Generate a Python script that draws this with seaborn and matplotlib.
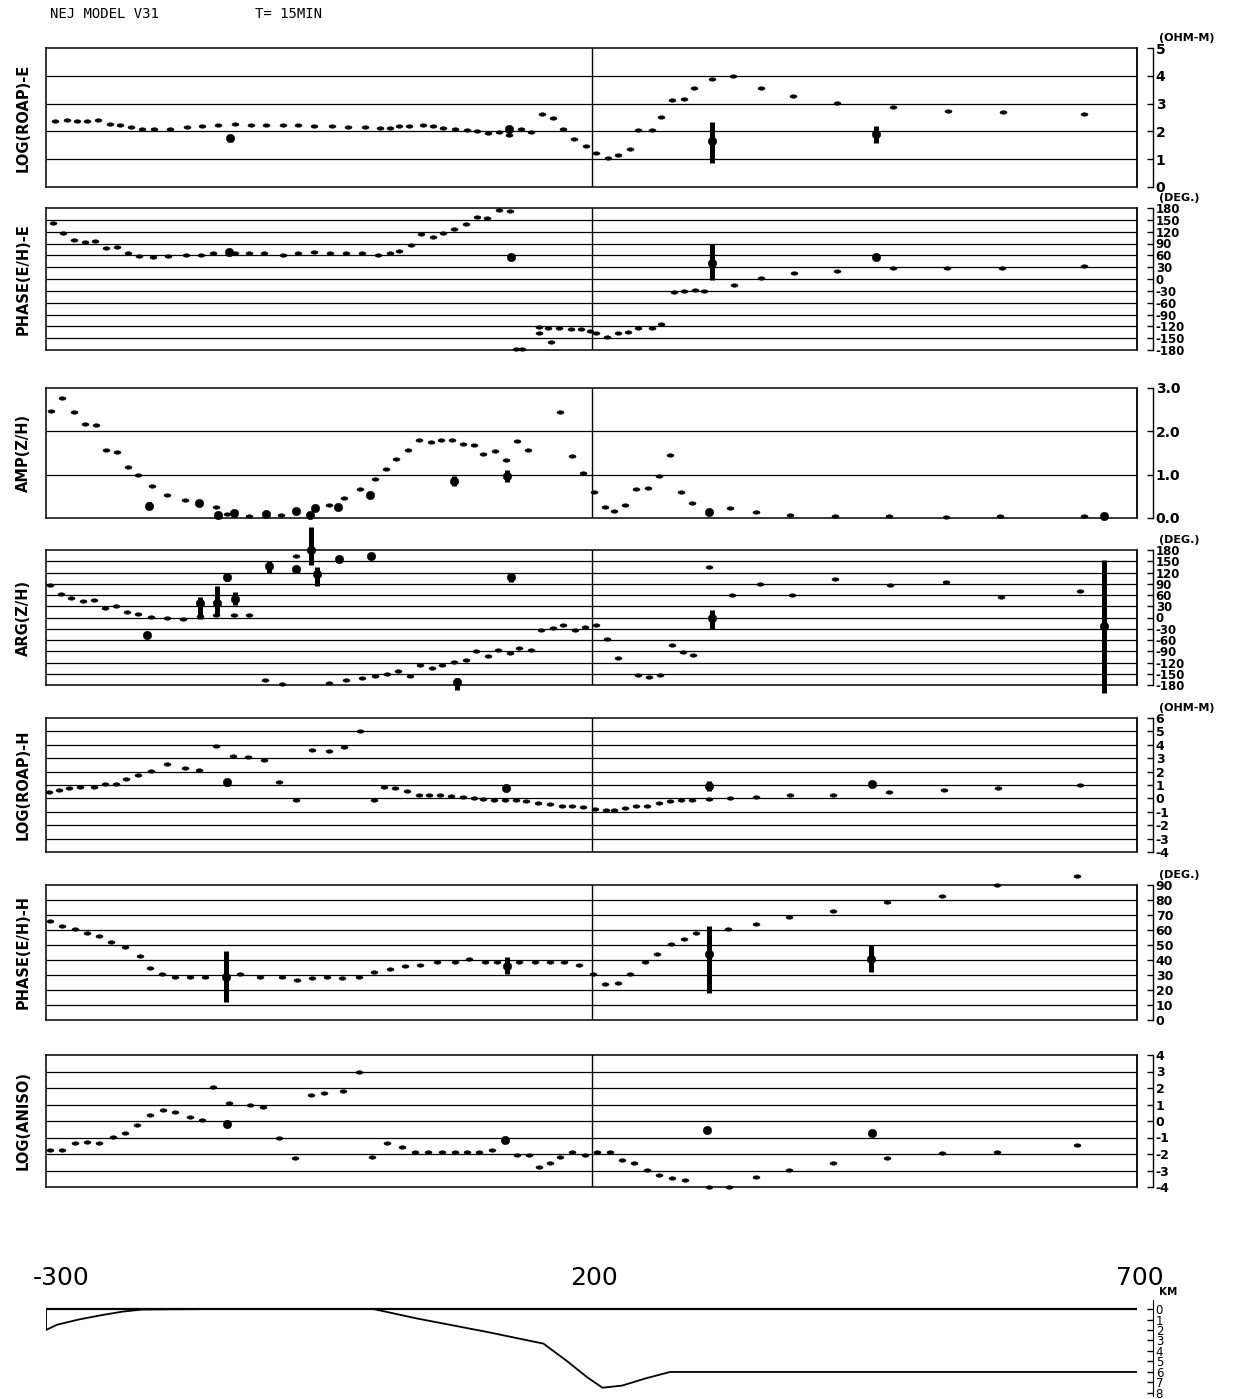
import numpy as np
import pandas as pd
import matplotlib
matplotlib.use("Agg")
import matplotlib.pyplot as plt
import seaborn as sns
from matplotlib.path import Path
from matplotlib.transforms import Affine2D

# ---------------- data (km along profile, value) ----------------
# Panel 1: LOG(ROAP)-E
RHOE_MX = [-292, -281, -272, -262, -252, -241, -232, -222, -212, -201, -186, -171, -157, -142, -127, -112, -98, -83, -69, -54,
           -38, -23, -8, 6, 15, 24, 33, 46, 55, 64, 75, 86, 95, 105, 115, 124, 135, 145, 155, 165, 174, 184, 195, 204, 215, 224,
           235, 243, 255, 264, 274, 285, 294, 310, 330, 355, 385, 425, 476, 527, 577, 651]
RHOE_MY = [2.36, 2.42, 2.36, 2.36, 2.40, 2.26, 2.24, 2.16, 2.10, 2.07, 2.08, 2.15, 2.20, 2.22, 2.25, 2.24, 2.22, 2.22, 2.22, 2.19,
           2.19, 2.17, 2.16, 2.11, 2.14, 2.18, 2.18, 2.24, 2.18, 2.14, 2.10, 2.04, 2.00, 1.95, 1.98, 1.88, 2.08, 1.97, 2.62, 2.50,
           2.10, 1.72, 1.48, 1.22, 1.06, 1.15, 1.36, 2.06, 2.06, 2.52, 3.12, 3.16, 3.55, 3.90, 3.98, 3.55, 3.28, 3.02, 2.86, 2.74,
           2.68, 2.62]
RHOE_OX = [-131, 124, 310, 461]
RHOE_OY = [1.75, 2.08, 1.65, 1.90]
RHOE_LO = [1.75, 1.95, 0.85, 1.58]
RHOE_HI = [1.75, 2.20, 2.35, 2.18]

# Panel 2: PHASE(E/H)-E
PHE_MX = [-294, -284, -274, -264, -255, -245, -235, -225, -215, -202, -188, -172, -158, -147, -127, -114, -100, -83, -69, -54,
          -40, -25, -10, 4, 15, 24, 35, 44, 55, 64, 74, 85, 95, 104, 115, 125, 131, 136, 152, 152, 160, 163, 170, 181, 190, 199,
          204, 214, 224, 233, 243, 255, 264, 276, 285, 295, 303, 331, 355, 386, 425, 476, 526, 576, 651]
PHE_MY = [142, 117, 100, 94, 96, 78, 82, 67, 58, 55, 58, 60, 60, 65, 65, 67, 65, 62, 65, 68,
          67, 67, 67, 60, 67, 71, 85, 114, 107, 117, 126, 139, 157, 155, 175, 173, -178, -178, -122, -137, -124, -160, -124,
          -126, -128, -133, -137, -146, -137, -134, -125, -123, -114, -34, -30, -27, -30, -14, 2, 15, 20, 27, 29, 29, 32]
PHE_OX = [-132, 126, 310, 461]
PHE_OY = [68, 56, 40, 55]
PHE_LO = [68, 56, -3, 55]
PHE_HI = [68, 56, 89, 55]

# Panel 3: AMP(Z/H)
AMP_MX = [-295, -285, -274, -264, -254, -245, -235, -225, -216, -203, -189, -173, -144, -134, -114, -85, -41, -27, -12, 2,
          12, 21, 32, 42, 53, 62, 72, 82, 92, 101, 112, 122, 132, 142, 171, 182, 192, 202, 212, 221, 231, 241, 252, 262,
          272, 282, 292, 327, 351, 382, 423, 473, 525, 574, 651]
AMP_MY = [2.46, 2.78, 2.44, 2.16, 2.14, 1.58, 1.53, 1.18, 0.99, 0.74, 0.54, 0.41, 0.25, 0.09, 0.05, 0.06, 0.31, 0.47, 0.66, 0.91,
          1.12, 1.36, 1.58, 1.81, 1.75, 1.79, 1.81, 1.71, 1.68, 1.47, 1.55, 1.34, 1.77, 1.58, 2.45, 1.44, 1.04, 0.61, 0.26, 0.16,
          0.30, 0.67, 0.69, 0.97, 1.45, 0.61, 0.35, 0.24, 0.13, 0.07, 0.04, 0.04, 0.02, 0.04, 0.05]
AMP_OX = [-206, -160, -142, -128, -98, -71, -58, -53, -32, -3, 74, 123, 308, 670]
AMP_OY = [0.28, 0.34, 0.06, 0.11, 0.09, 0.15, 0.06, 0.22, 0.26, 0.52, 0.86, 0.97, 0.13, 0.05]
AMP_LO = [0.20, 0.27, 0.00, 0.04, 0.02, 0.09, 0.00, 0.16, 0.18, 0.45, 0.74, 0.84, 0.06, 0.00]
AMP_HI = [0.36, 0.40, 0.12, 0.17, 0.15, 0.21, 0.12, 0.28, 0.33, 0.60, 0.97, 1.10, 0.18, 0.09]

# Panel 4: ARG(Z/H)
ARG_MX = [-296, -286, -277, -266, -256, -246, -236, -226, -216, -204, -189, -174, -159, -144, -128, -114, -71, -99, -84, -41,
          -25, -10, 2, 13, 23, 34, 43, 54, 63, 74, 85, 94, 105, 114, 125, 134, 145, 154, 165, 174, 185, 194, 204,
          214, 224, 243, 253, 263, 274, 284, 293, 308, 329, 354, 384, 423, 474, 525, 575, 648]
ARG_MY = [88, 64, 52, 43, 47, 26, 30, 14, 9, 1, -1, -3, 3, 8, 8, 8, 164, -167, -177, -175,
          -167, -161, -155, -151, -143, -155, -127, -134, -127, -119, -112, -90, -102, -87, -95, -81, -87, -32, -27, -20, -32,
          -25, -20, -58, -107, -153, -158, -153, -74, -92, -100, 136, 61, 89, 59, 102, 86, 96, 55, 70]
ARG_OX = [-207, -159, -143, -134, -127, -96, -71, -57, -52, -31, -2, 77, 126, 310, 670]
ARG_OY = [-47, 40, 40, 108, 50, 137, 129, 180, 117, 156, 164, -172, 108, -1, -23]
ARG_LO = [-47, -3, 6, 98, 33, 120, 129, 140, 84, 156, 164, -192, 95, -30, -201]
ARG_HI = [-47, 55, 84, 112, 68, 150, 129, 241, 135, 156, 164, -160, 117, 21, 153]

# Panel 5: LOG(ROAP)-H
RHOH_MX = [-297, -288, -279, -269, -256, -246, -236, -227, -216, -204, -189, -173, -160, -144, -129, -115, -100, -86, -71, -56,
           -41, -27, -12, 1, 10, 20, 31, 42, 51, 61, 71, 82, 92, 101, 111, 121, 131, 140, 151, 162, 173, 182, 192, 203, 213,
           221, 231, 241, 251, 262, 272, 282, 292, 308, 327, 351, 382, 421, 473, 523, 573, 648]
RHOH_MY = [0.47, 0.59, 0.74, 0.84, 0.84, 1.09, 1.09, 1.46, 1.78, 2.08, 2.60, 2.28, 2.10, 3.94, 3.20, 3.07, 2.90, 1.21, -0.15,
           3.64, 3.57, 3.84, 5.01, -0.15, 0.86, 0.74, 0.54, 0.24, 0.24, 0.22, 0.17, 0.12, 0.00, -0.08, -0.15, -0.13, -0.15, -0.20,
           -0.33, -0.40, -0.53, -0.58, -0.63, -0.77, -0.87, -0.87, -0.70, -0.53, -0.53, -0.38, -0.20, -0.15, -0.15, -0.08, 0.04,
           0.09, 0.22, 0.29, 0.49, 0.62, 0.74, 0.99]
RHOH_OX = [-134, 122, 308, 457]
RHOH_OY = [1.21, 0.79, 0.91, 1.04]
RHOH_LO = [0.95, 0.79, 0.55, 1.04]
RHOH_HI = [1.45, 0.79, 1.30, 1.04]

# Panel 6: PHASE(E/H)-H
PHH_MX = [-296, -285, -273, -262, -251, -240, -228, -214, -205, -194, -182, -168, -154, -122, -104, -84, -70, -56, -42, -29,
          -13, 1, 15, 29, 43, 58, 75, 88, 102, 113, 134, 148, 162, 175, 189, 201, 212, 224, 235, 249, 260, 273, 285, 296,
          325, 351, 381, 421, 471, 521, 572, 645]
PHH_MY = [66, 63, 61, 58, 56, 52, 49, 43, 35, 31, 29, 29, 29, 31, 29, 29, 27, 28, 29, 28,
          29, 32, 34, 36, 37, 39, 39, 41, 39, 39, 39, 39, 39, 39, 37, 31, 24, 25, 31, 39, 44, 51, 54, 58,
          61, 64, 69, 73, 79, 83, 90, 96]
PHH_OX = [-135, 123, 308, 456]
PHH_OY = [29, 36, 44, 41]
PHH_LO = [12, 31, 18, 32]
PHH_HI = [46, 42, 63, 50]

# Panel 7: LOG(ANISO)
ANI_MX = [-296, -285, -273, -262, -251, -239, -228, -217, -205, -193, -182, -168, -157, -147, -132, -113, -101, -86, -72, -57,
          -45, -28, -13, -1, 13, 26, 38, 50, 63, 75, 86, 97, 109, 132, 143, 152, 162, 171, 182, 194, 205, 217, 228, 239,
          251, 262, 274, 286, 308, 326, 351, 381, 421, 471, 521, 572, 645]
ANI_MY = [-1.76, -1.76, -1.33, -1.27, -1.33, -0.97, -0.73, -0.24, 0.36, 0.67, 0.55, 0.24, 0.06, 2.06, 1.09, 0.97, 0.85, -1.03,
          -2.24, 1.58, 1.70, 1.82, 2.97, -2.18, -1.33, -1.58, -1.88, -1.88, -1.88, -1.88, -1.88, -1.88, -1.76, -2.06, -2.06,
          -2.79, -2.55, -2.18, -1.88, -2.06, -1.88, -1.88, -2.36, -2.55, -2.97, -3.27, -3.45, -3.58, -4.0, -4.0, -3.39, -2.97,
          -2.55, -2.24, -1.94, -1.88, -1.45]
ANI_OX = [-134, 121, 306, 457]
ANI_OY = [-0.18, -1.15, -0.55, -0.73]
ANI_LO = ANI_OY
ANI_HI = ANI_OY

# Bottom: depth profile (km along profile, depth km)
PROF_X = [-300, -300, -290, -270, -250, -230, -212, -150, 0, 40, 105, 156, 178, 196, 210, 228, 250, 272, 700]
PROF_D = [0, 2.0, 1.5, 1.0, 0.6, 0.25, 0.05, 0, 0, 0.9, 2.2, 3.3, 5.0, 6.5, 7.5, 7.3, 6.6, 6.0, 6.0]

X_TICKS = [-300, 200, 700]

# ---------------- figure ----------------
sns.set_theme(style="white")
plt.rcParams['font.family'] = ['DejaVu Sans']

W, H = 1237, 1399
fig = plt.figure(figsize=(W / 100, H / 100), dpi=100)
fig.patch.set_facecolor("white")

LEFT, RIGHT = 46, 1137


def add_ax(top, bottom):
    return fig.add_axes([LEFT / W, 1 - bottom / H, (RIGHT - LEFT) / W, (bottom - top) / H])


ELL = Path.unit_circle().transformed(Affine2D().scale(1.0, 0.5))


def fmt(v, dec):
    return f"{v:.{dec}f}"


def panel(top, bottom, ylab, unit, ylim, ticks, dec, mx, my, ox, oy, olo, ohi, lsize):
    ax = add_ax(top, bottom)
    ax.set_facecolor("white")
    ax.set_xlim(-300, 700)
    ax.set_ylim(*ylim)
    for t in ticks[1:-1]:
        ax.axhline(t, color="black", lw=0.9, zorder=1)
    ax.axvline(200, color="black", lw=1.0, zorder=1)
    ax.axvline(700, color="black", lw=1.3, zorder=1, clip_on=False)
    for s in ["left", "top", "bottom"]:
        ax.spines[s].set_visible(True)
        ax.spines[s].set_color("black")
        ax.spines[s].set_linewidth(1.1)
    ax.spines["right"].set_position(("outward", 11.5))
    ax.spines["right"].set_color("black")
    ax.spines["right"].set_linewidth(1.0)
    ax.set_xticks([])
    ax.yaxis.tick_right()
    ax.set_yticks(ticks)
    ax.set_yticklabels([fmt(t, dec) for t in ticks])
    ax.tick_params(axis="y", which="both", right=True, left=False, direction="in",
                   length=4, width=1.0, pad=2, labelsize=lsize, colors="black")
    for lab in ax.get_yticklabels():
        lab.set_fontweight("bold")
    sns.scatterplot(x=mx, y=my, marker=ELL, s=26, color="black", edgecolor="black",
                    linewidth=0.3, ax=ax, clip_on=False, zorder=3, legend=False)
    sns.scatterplot(x=ox, y=oy, marker="o", s=38, color="black", edgecolor="black",
                    linewidth=0.3, ax=ax, clip_on=False, zorder=4, legend=False)
    ox_a, lo_a, hi_a = np.array(ox), np.array(olo), np.array(ohi)
    m = hi_a > lo_a
    ax.vlines(ox_a[m], lo_a[m], hi_a[m], color="black", lw=3.6, zorder=4, clip_on=False)
    ax.set_xlabel("")
    ax.set_ylabel("")
    ax.text(-0.021, 0.5, ylab, transform=ax.transAxes, rotation=90, ha="center", va="center",
            fontsize=10.5, fontweight="bold", color="black")
    if unit:
        ax.annotate(unit, xy=(1, 1), xycoords="axes fraction", xytext=(16, 7),
                    textcoords="offset points", ha="left", va="center",
                    fontsize=8, fontweight="bold", color="black")
    return ax


panel(48, 187, "LOG(ROAP)-E", "(OHM-M)", (0, 5), list(range(0, 6)), 0,
      RHOE_MX, RHOE_MY, RHOE_OX, RHOE_OY, RHOE_LO, RHOE_HI, 10)
panel(208, 350, "PHASE(E/H)-E", "(DEG.)", (-180, 180), list(range(-180, 181, 30)), 0,
      PHE_MX, PHE_MY, PHE_OX, PHE_OY, PHE_LO, PHE_HI, 8.5)
panel(388, 518, "AMP(Z/H)", None, (0, 3), [0, 1, 2, 3], 1,
      AMP_MX, AMP_MY, AMP_OX, AMP_OY, AMP_LO, AMP_HI, 10)
panel(550, 685, "ARG(Z/H)", "(DEG.)", (-180, 180), list(range(-180, 181, 30)), 0,
      ARG_MX, ARG_MY, ARG_OX, ARG_OY, ARG_LO, ARG_HI, 8.5)
panel(718, 852, "LOG(ROAP)-H", "(OHM-M)", (-4, 6), list(range(-4, 7)), 0,
      RHOH_MX, RHOH_MY, RHOH_OX, RHOH_OY, RHOH_LO, RHOH_HI, 9)
panel(885, 1020, "PHASE(E/H)-H", "(DEG.)", (0, 90), list(range(0, 91, 10)), 0,
      PHH_MX, PHH_MY, PHH_OX, PHH_OY, PHH_LO, PHH_HI, 9)
panel(1055, 1187, "LOG(ANISO)", None, (-4, 4), list(range(-4, 5)), 0,
      ANI_MX, ANI_MY, ANI_OX, ANI_OY, ANI_LO, ANI_HI, 9)

# ---------------- depth profile ----------------
axp = add_ax(1300, 1396)
axp.set_facecolor("white")
axp.set_xlim(-300, 700)
axp.set_ylim(8.29, -0.86)
axp.axhline(0, color="black", lw=1.6, zorder=2)
prof = pd.DataFrame({"x": PROF_X, "d": PROF_D})
sns.lineplot(data=prof, x="x", y="d", sort=False, estimator=None, color="black", lw=1.3, ax=axp)
for s in ["left", "top", "bottom"]:
    axp.spines[s].set_visible(False)
axp.spines["right"].set_visible(True)
axp.spines["right"].set_position(("outward", 11.5))
axp.spines["right"].set_color("black")
axp.spines["right"].set_linewidth(0.8)
axp.set_xticks([])
axp.yaxis.tick_right()
axp.set_yticks(list(range(0, 9)))
axp.set_yticklabels([str(v) for v in range(0, 9)])
axp.tick_params(axis="y", right=True, left=False, direction="in", length=4, width=1.0,
                pad=2, labelsize=8.5, colors="black")
axp.set_xlabel("")
axp.set_ylabel("")
for i, xv in enumerate(X_TICKS):
    dx = -13 if i == 0 else 3
    axp.annotate(str(xv), xy=(xv, 1.0), xycoords=axp.get_xaxis_transform(),
                 xytext=(dx, 10), textcoords="offset pixels",
                 ha="left" if i == 0 else "center", va="bottom", fontsize=18, color="black")
axp.annotate("KM", xy=(1, 1), xycoords="axes fraction", xytext=(16, 6),
             textcoords="offset points", ha="left", va="center", fontsize=7.5,
             fontweight="bold", color="black")

# ---------------- title ----------------
fig.text(50 / W, 1 - 14 / H, "NEJ MODEL V31", fontsize=10, va="center", ha="left",
         color="black", family="DejaVu Sans Mono")
fig.text(255 / W, 1 - 14 / H, "T= 15MIN", fontsize=10, va="center", ha="left",
         color="black", family="DejaVu Sans Mono")

fig.savefig("out.png", dpi=100, facecolor="white")
